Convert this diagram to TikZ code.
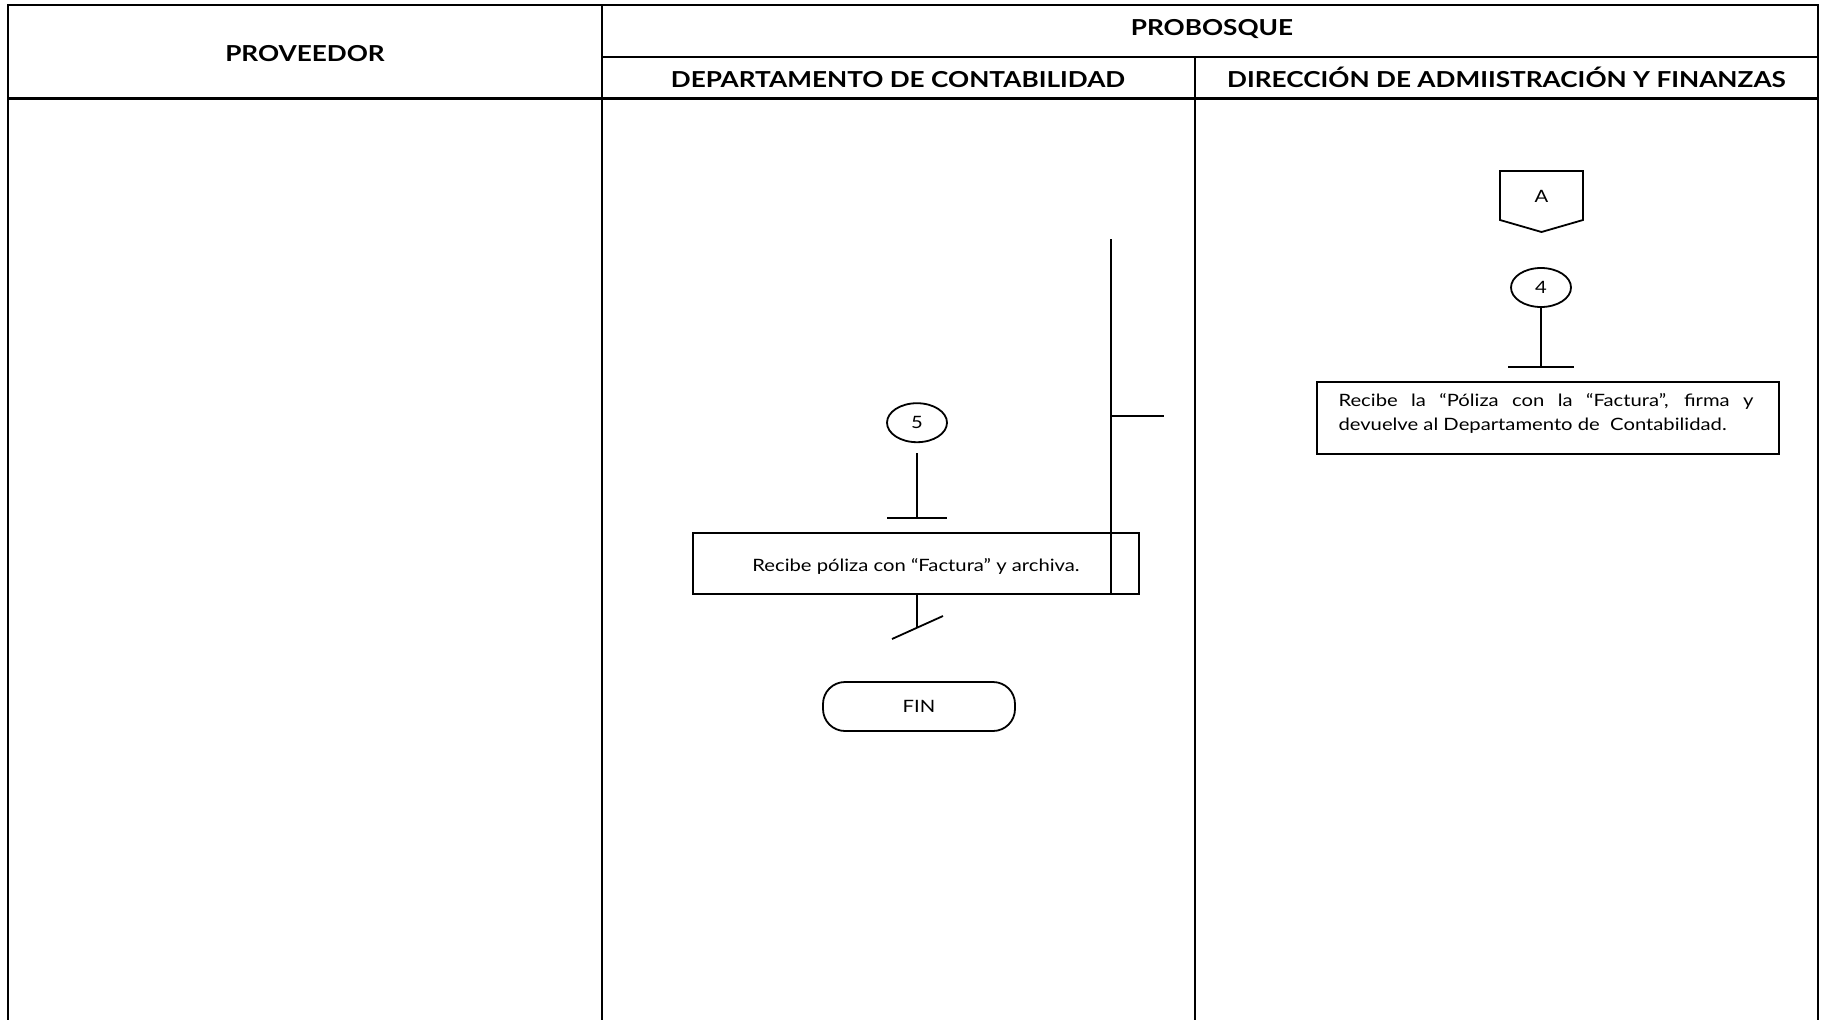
\documentclass[tikz,border=0pt]{standalone}
\usepackage{fontspec}
\setmainfont{Lato}[FakeStretch=1.19]
\usetikzlibrary{shapes.geometric}
\tikzset{
  frame/.style={line width=2.6pt},
  flow/.style={line width=1.8pt},
  hdr/.style={anchor=base, inner sep=0pt, font=\fontsize{22}{26}\selectfont\bfseries},
  txt/.style={inner sep=0pt, font=\fontsize{17}{23.3}\selectfont},
  circ/.style={draw, ellipse, line width=1.8pt, minimum width=60, minimum height=39, inner sep=0pt, font=\fontsize{17}{20}\selectfont},
  procbox/.style={draw, rectangle, line width=1.8pt, inner sep=0pt},
}
\begin{document}
\begin{tikzpicture}[x=1pt,y=-1pt]
\useasboundingbox (0,0) rectangle (1821,1020);
% frame
\coordinate (tl) at (8,5);
\coordinate (tr) at (1818,5);
\draw[frame] (8,1020) -- (tl) -- (tr) -- (1818,1020);
\draw[frame] (602,5) -- (602,1020);
\draw[frame] (602,57) -- (1818,57);
\draw[frame] (8,98.5) -- (1818,98.5);
\draw[frame] (1195,57) -- (1195,1020);
% headers
\node[hdr] (hprov) at (305,61.7) {PROVEEDOR};
\node[hdr] (hprob) at (1212,35) {PROBOSQUE};
\node[hdr] (hcont) at (898,87.3) {DEPARTAMENTO DE CONTABILIDAD};
\node[hdr] (hdir) at (1506.5,87.3) {DIRECCIÓN DE ADMIISTRACIÓN Y FINANZAS};
% connector A
\draw[flow] (1500,171) -- (1583,171) -- (1583,220) -- (1541.5,232) -- (1500,220) -- cycle;
\node[txt] (A) at (1541.5,196) {A};
% step 4
\node[circ] (n4) at (1541,287.5) {4};
\coordinate (b4) at (1541,367.3);
\draw[flow] (n4.south) -- (b4);
\draw[flow] (1508,367.3) -- (1574,367.3);
\node[procbox, minimum width=462, minimum height=72.6] (box4) at (1548,418) {};
\node[txt, anchor=base west, text width=415, align=justify] (t4) at (1338.3,406.7)
  {Recibe la “Póliza con la “Factura”, firma y\linebreak devuelve al Departamento de \ Contabilidad.};
% step 5
\node[circ] (n5) at (917,422.7) {5};
\coordinate (s5) at (917,453);
\coordinate (b5) at (917,518.3);
\draw[flow] (s5) -- (b5);
\draw[flow] (887,518.3) -- (947,518.3);
\node[procbox, minimum width=446, minimum height=61] (box5) at (916,563.5) {};
\node[txt, anchor=base] (t5) at (916,571.7) {Recibe póliza con “Factura” y archiva.};
% vertical line through box 5
\coordinate (v1) at (1111,239);
\coordinate (v2) at (1111,594);
\coordinate (h2) at (1164,415.7);
\draw[flow] (v1) -- (v2);
\draw[flow] (1111,415.7) -- (h2);
% below box 5
\coordinate (e5) at (917,627);
\draw[flow] (box5.south -| e5) -- (e5);
\draw[flow] (892,639) -- (943,616);
% FIN
\node[draw, rounded corners=22, line width=1.8pt, minimum width=192, minimum height=49, inner sep=0pt, font=\fontsize{17}{20}\selectfont] (fin) at (919,706.5) {FIN};
\end{tikzpicture}
\end{document}
